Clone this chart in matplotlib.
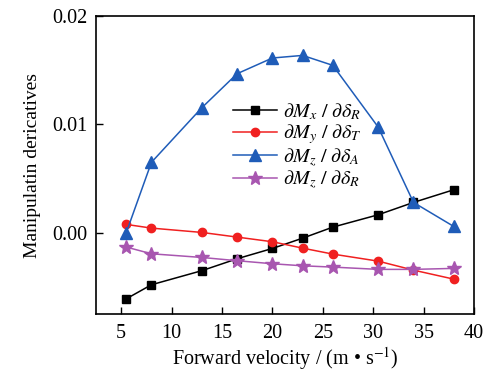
import matplotlib
matplotlib.use("Agg")
import matplotlib.pyplot as plt

plt.rcParams['font.family'] = ['Liberation Serif', 'DejaVu Serif']
plt.rcParams['mathtext.fontset'] = 'stix'

velocity = [5.5, 8, 13, 16.5, 20, 23, 26, 30.5, 34, 38]
mx_dr = [-0.0061, -0.0048, -0.0035, -0.0024, -0.00145, -0.0005, 0.00052, 0.00166, 0.0028, 0.00397]
my_dt = [0.00077, 0.00043, 0.00003, -0.0004, -0.00083, -0.00142, -0.00197, -0.00262, -0.00345, -0.00428]
mz_da = [0.0, 0.0065, 0.01154, 0.01468, 0.01613, 0.01637, 0.01545, 0.00975, 0.0028, 0.00058]
mz_dr = [-0.00132, -0.00194, -0.00228, -0.00258, -0.00286, -0.00305, -0.00317, -0.00338, -0.00338, -0.00329]

fig = plt.figure(figsize=(5.01, 3.74), dpi=100)
ax = fig.add_axes([0.1916, 0.1604, 0.7544, 0.7966])

ax.plot(velocity, mx_dr, color='black', marker='s', ms=5.5, lw=1.1,
        label=r'$\partial M_x\ /\ \partial\delta_R$')
ax.plot(velocity, my_dt, color='#f02020', marker='o', ms=6, lw=1.1,
        label=r'$\partial M_y\ /\ \partial\delta_T$')
ax.plot(velocity, mz_da, color='#1f5cb8', marker='^', ms=8, lw=1.1,
        label=r'$\partial M_z\ /\ \partial\delta_A$')
ax.plot(velocity, mz_dr, color='#a856b0', marker='*', ms=10, lw=1.1,
        label=r'$\partial M_z\ /\ \partial\delta_R$')

ax.set_xlim(2.5, 40)
ax.set_ylim(-0.0075, 0.02)
ax.set_xticks([5, 10, 15, 20, 25, 30, 35, 40])
ax.set_yticks([0.0, 0.01, 0.02])
ax.set_yticklabels(['0.00', '0.01', '0.02'])
ax.tick_params(direction='in', labelsize=14.5, length=5, width=1)
ax.tick_params(axis='x', pad=7)
ax.tick_params(axis='y', pad=6)
for s in ax.spines.values():
    s.set_linewidth(1.2)

ax.set_xlabel(r'Forward velocity / (m • s$^{-1}$)', fontsize=14.5, labelpad=2)
ax.set_ylabel('Manipulatin dericatives', fontsize=14, labelpad=8)

ax.legend(loc='upper left', bbox_to_anchor=(0.325, 0.76), frameon=False,
          fontsize=14.5, handlelength=2.2, handletextpad=0.3, labelspacing=0.0,
          borderpad=0.2)

fig.savefig('out.png', dpi=100)
